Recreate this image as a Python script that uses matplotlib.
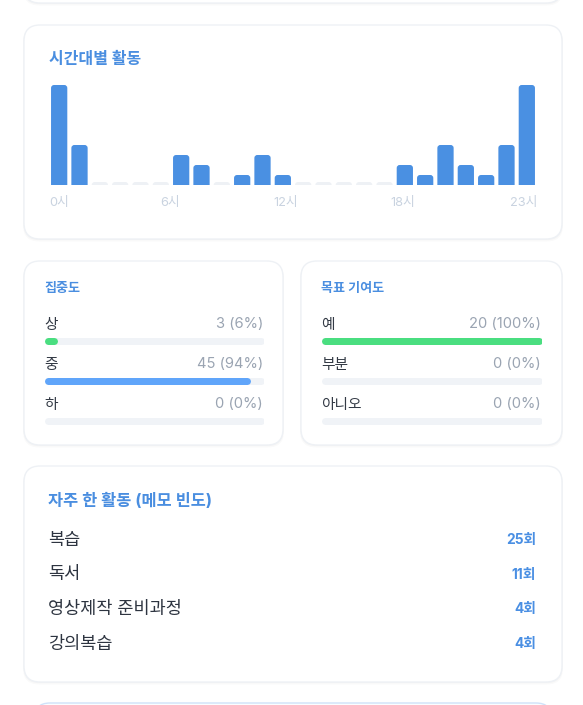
import matplotlib.pyplot as plt
from matplotlib.patches import FancyBboxPatch

plt.rcParams['font.family'] = ['Inter', 'Noto Sans CJK KR', 'DejaVu Sans']

# data
hours = list(range(24))
hour_counts = [10, 4, 0, 0, 0, 0, 3, 2, 0, 1, 3, 1, 0, 0, 0, 0, 0, 2, 1, 4, 2, 1, 4, 10]
hour_ticks = ['0시', '6시', '12시', '18시', '23시']

focus_labels = ['상', '중', '하']
focus_counts = [3, 45, 0]

goal_labels = ['예', '부분', '아니오']
goal_counts = [20, 0, 0]

memo_items = ['복습', '독서', '영상제작 준비과정', '강의복습']
memo_counts = [25, 11, 4, 4]

W, H = 583, 705
BLUE = '#4a8fe3'
TITLE = '#4a8ee0'
TRACK = '#f0f3f7'
fig = plt.figure(figsize=(W / 100, H / 100), dpi=100)
fig.patch.set_facecolor('white')

bg = fig.add_axes([0, 0, 1, 1])
bg.set_xlim(0, W)
bg.set_ylim(H, 0)
bg.axis('off')


def card(x0, y0, x1, y1, edge='#eef1f5', face='white'):
  for off, a in [(2.5, 0.02), (1.2, 0.025)]:
    bg.add_patch(FancyBboxPatch((x0 - off * 0.4, y0 + off * 0.4), x1 - x0 + off * 0.8, y1 - y0 + off * 0.6,
                                boxstyle='round,pad=0,rounding_size=16',
                                fc='black', ec='none', alpha=a, zorder=1))
  bg.add_patch(FancyBboxPatch((x0, y0), x1 - x0, y1 - y0,
                              boxstyle='round,pad=0,rounding_size=16',
                              fc=face, ec=edge, lw=1, zorder=2))


def px_axes(x0, y0, x1, y1):
  return fig.add_axes([x0 / W, 1 - y1 / H, (x1 - x0) / W, (y1 - y0) / H])


# cards
card(24, -60, 562, 3)
card(24, 25, 562, 239)
card(24, 261, 283, 445)
card(301, 261, 562, 445)
card(24, 466, 562, 682)
card(34, 703, 552, 780, edge='#cfe2f9', face='#fbfdff')

# hourly activity
bg.text(49, 59, '시간대별 활동', fontsize=11.5, fontweight='bold', color=TITLE,
        va='center', ha='left', zorder=5)
hx0, hx1, hy0, hy1 = 49, 537, 85, 185
ax = px_axes(hx0, hy0, hx1, hy1)
ax.axis('off')
ymax = max(hour_counts)
ax.set_xlim(-0.5, len(hours) - 0.5)
ax.set_ylim(0, ymax)
ppx = (hx1 - hx0) / len(hours)
ppy = (hy1 - hy0) / ymax
bw = 0.8
r = 3.0 / ppx
for h, v in zip(hours, hour_counts):
  if v > 0:
    top, col = v, '#4a90e2'
  else:
    top, col = 3.0 / ppy, '#eef1f5'
  ax.add_patch(FancyBboxPatch((h - bw / 2, -1), bw, top + 1,
                              boxstyle=f'round,pad=0,rounding_size={r}',
                              mutation_aspect=ppx / ppy, fc=col, ec='none'))

tick_x = [49, 170, 286, 403, 537]
tick_ha = ['left', 'center', 'center', 'center', 'right']
for t, x, ha in zip(hour_ticks, tick_x, tick_ha):
  bg.text(x, 203, t, fontsize=9.2, color='#c9d3e0', ha=ha, va='center', zorder=5)


# progress cards
def progress(x0, x1, title, labels, counts, colors):
  bg.text(x0, 289, title, fontsize=9.4, fontweight='bold', color=TITLE,
          ha='left', va='center', zorder=5)
  total = sum(counts)
  pax = px_axes(x0, 321, x1, 441)
  pax.axis('off')
  pax.set_xlim(0, 1)
  pax.set_ylim(len(labels) - 0.5, -0.5)
  lw = 7 * 0.72
  cap = 3.5 / (x1 - x0)
  for i, (lab, c) in enumerate(zip(labels, counts)):
    frac = c / total if total else 0
    pax.plot([cap, 1 - cap], [i, i], color=TRACK, lw=lw, solid_capstyle='round')
    if c > 0:
      pax.plot([cap, max(frac - cap, cap)], [i, i], color=colors[i], lw=lw,
               solid_capstyle='round')
    y = 324.5 + 40 * i
    bg.text(x0, y, lab, fontsize=10.6, color='#333a45', ha='left', va='center', zorder=5)
    bg.text(x1 - 1, y, f'{c} ({round(frac * 100)}%)', fontsize=10.6, color='#9aa4b2',
            ha='right', va='center', zorder=5)


progress(44, 264, '집중도', focus_labels, focus_counts, ['#4ade80', '#60a5fa', '#f87171'])
progress(321, 542, '목표 기여도', goal_labels, goal_counts, ['#4ade80', '#facc15', '#f87171'])

# frequent activities
bg.text(48, 501, '자주 한 활동 (메모 빈도)', fontsize=11.8, fontweight='bold', color=TITLE,
        ha='left', va='center', zorder=5)
for i, (item, c) in enumerate(zip(memo_items, memo_counts)):
  y = 540 + 34.7 * i
  bg.text(48, y, item, fontsize=12.6, color='#2d3440', ha='left', va='center', zorder=5)
  bg.text(536, y, f'{c}회', fontsize=9.9, fontweight='bold', color=BLUE,
          ha='right', va='center', zorder=5)

fig.savefig('out.png', dpi=100, facecolor='white')
